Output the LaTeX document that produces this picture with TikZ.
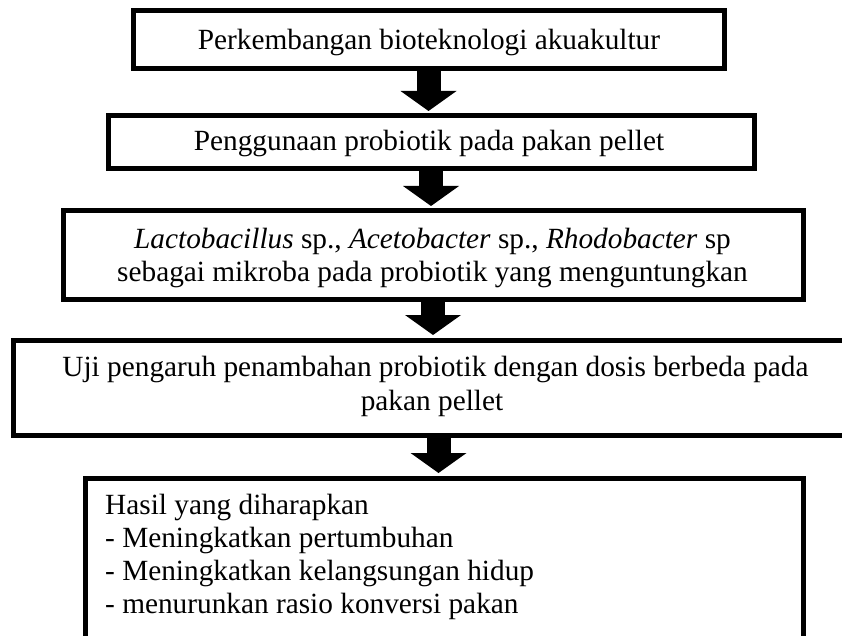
\documentclass[tikz,border=0pt]{standalone}
\usepackage{fontspec}
\setmainfont{Liberation Serif}
\usetikzlibrary{arrows.meta}
\begin{document}
\begin{tikzpicture}[x=1pt,y=-1pt,
  box/.style={draw, rectangle, line width=5pt, inner sep=0pt},
  lbl/.style={inner sep=0pt, anchor=base, font=\fontsize{29.3}{34}\selectfont},
  lbll/.style={lbl, anchor=base west},
  blockarrow/.style={line width=24pt, shorten >=2.5pt,
    -{Triangle[width=56pt, length=20pt, line width=0pt]}}]
\useasboundingbox (0,0) rectangle (842,636);
\clip (0,0) rectangle (842,636);
\fill[white] (0,0) rectangle (842,636);
% boxes
\node[box, minimum width=591pt, minimum height=58pt] (b1) at (428.5,40) {};
\node[box, minimum width=646pt, minimum height=53pt] (b2) at (431,142.5) {};
\node[box, minimum width=740pt, minimum height=88pt] (b3) at (433,255) {};
\node[box, minimum width=840pt, minimum height=95pt] (b4) at (433.5,387.5) {};
\node[box, minimum width=718pt, minimum height=182pt] (b5) at (444,569) {};
% texts
\node[lbl] (t1) at (429,49.5) {Perkembangan bioteknologi akuakultur};
\node[lbl] (t2) at (429,151) {Penggunaan probiotik pada pakan pellet};
\node[lbl] (t3a) at (432.5,248.5) {\textit{Lactobacillus} sp., \textit{Acetobacter} sp., \textit{Rhodobacter} sp};
\node[lbl] (t3b) at (432.5,281) {sebagai mikroba pada probiotik yang menguntungkan};
\node[lbl] (t4a) at (435.5,376) {Uji pengaruh penambahan probiotik dengan dosis berbeda pada};
\node[lbl] (t4b) at (432,410.5) {pakan pellet};
\node[lbll] (t5a) at (105,514) {Hasil yang diharapkan};
\node[lbll] (t5b) at (105,547.5) {- Meningkatkan pertumbuhan};
\node[lbll] (t5c) at (105,580.5) {- Meningkatkan kelangsungan hidup};
\node[lbll] (t5d) at (105,613) {- menurunkan rasio konversi pakan};
% arrows
\draw[blockarrow] (b1.south) -- (b1.south |- b2.north);
\draw[blockarrow] (b2.south) -- (b2.south |- b3.north);
\draw[blockarrow] (b3.south) -- (b3.south |- b4.north);
\coordinate (a4) at ([xshift=5pt]b4.south);
\draw[blockarrow] (a4) -- (a4 |- b5.north);
\end{tikzpicture}
\end{document}
